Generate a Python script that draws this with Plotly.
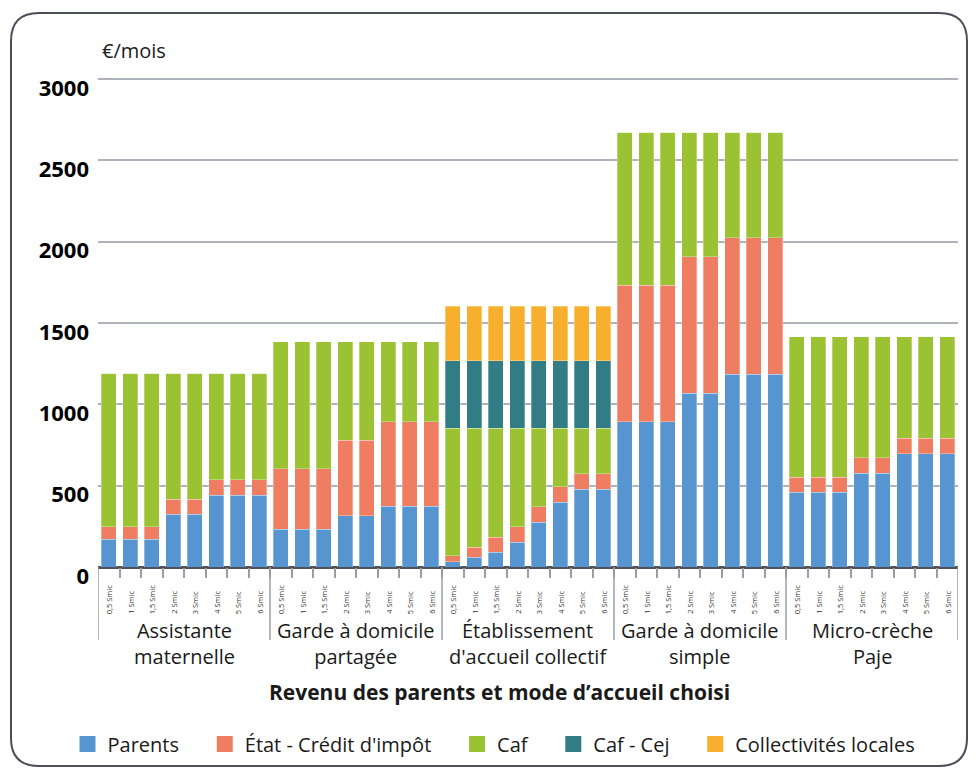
import plotly.graph_objects as go

# Modes d'accueil et niveaux de revenu
modes = ["Assistante<br>maternelle", "Garde à domicile<br>partagée",
         "Établissement<br>d'accueil collectif", "Garde à domicile<br>simple",
         "Micro-crèche<br>Paje"]
revenus = ["0,5 Smic", "1 Smic", "1,5 Smic", "2 Smic", "3 Smic", "4 Smic", "5 Smic", "6 Smic"]

# Montants par financeur (€/mois), 8 revenus par mode
parents = [170, 170, 170, 324, 324, 441, 441, 441,
           231, 231, 231, 314, 314, 375, 375, 375,
           33, 59, 92, 151, 274, 398, 478, 478,
           894, 894, 894, 1067, 1067, 1186, 1186, 1186,
           461, 461, 461, 577, 577, 696, 696, 696]
etat = [77, 77, 77, 92, 92, 96, 96, 96,
        373, 373, 373, 464, 464, 519, 519, 519,
        36, 62, 92, 96, 95, 94, 96, 96,
        839, 839, 839, 839, 839, 839, 839, 839,
        92, 92, 92, 95, 95, 94, 94, 94]
caf = [943, 943, 943, 774, 774, 653, 653, 653,
       782, 782, 782, 608, 608, 492, 492, 492,
       784, 732, 669, 606, 484, 361, 279, 279,
       939, 939, 939, 766, 766, 647, 647, 647,
       862, 862, 862, 743, 743, 625, 625, 625]
caf_cej = [0] * 16 + [415] * 8 + [0] * 16
collectivites = [0] * 16 + [336] * 8 + [0] * 16

series = [
    ("Parents", parents, "#5795D0"),
    ("État - Crédit d'impôt", etat, "#EF7D62"),
    ("Caf", caf, "#9BC232"),
    ("Caf - Cej", caf_cej, "#327C86"),
    ("Collectivités locales", collectivites, "#F8AF2E"),
]

n_rev = len(revenus)
x_pos = list(range(len(modes) * n_rev))
tick_text = revenus * len(modes)

# la page ajoute 8 px de marge autour de la figure
OFF = 8
W, H = 960, 759
L, R, T, B = 90, 10, 68, 200
pw, ph = W - L - R, H - T - B
y_top = 3000 * ph / (ph - 3)  # petite marge pour voir la ligne 3000


def px_x(p):
    return (p - OFF - L) / pw


def px_y(p):
    return (H - B - (p - OFF)) / ph


fig = go.Figure()

for i, (name, vals, color) in enumerate(series):
    fig.add_trace(go.Bar(
        x=x_pos, y=vals, name=name,
        marker=dict(color=color, line=dict(color="rgba(255,255,255,0.6)", width=0.5)),
        showlegend=False,
    ))
    # entrée de légende avec un grand carré
    label = name if i == len(series) - 1 else name + "\u00a0" * 4
    fig.add_trace(go.Scatter(
        x=[None], y=[None], mode="markers", name=label,
        marker=dict(symbol="square", size=21, color=color),
    ))

shapes = []
# séparateurs de groupes
for k in range(len(modes) + 1):
    shapes.append(dict(type="line", xref="x", yref="paper",
                       x0=k * n_rev - 0.5, x1=k * n_rev - 0.5,
                       y0=0, y1=px_y(640), line=dict(color="#9a9ea8", width=1.5)))

# cadre arrondi
x0, x1 = px_x(11), px_x(967)
y0, y1 = px_y(13), px_y(766)
rx, ry = 28 / pw, 28 / ph
path = (f"M {x0 + rx},{y0} L {x1 - rx},{y0} Q {x1},{y0} {x1},{y0 - ry} "
        f"L {x1},{y1 + ry} Q {x1},{y1} {x1 - rx},{y1} L {x0 + rx},{y1} "
        f"Q {x0},{y1} {x0},{y1 + ry} L {x0},{y0 - ry} Q {x0},{y0} {x0 + rx},{y0} Z")
shapes.append(dict(type="path", xref="paper", yref="paper", path=path,
                   line=dict(color="#4a4f5a", width=2)))

annotations = []
# libellés de revenu, verticaux, alignés par le bas
for xi, t in zip(x_pos, tick_text):
    annotations.append(dict(
        text=t, x=xi, xref="x", y=px_y(616), yref="paper", textangle=-90,
        xanchor="center", yanchor="bottom", showarrow=False,
        font=dict(size=7.5, color="#333"),
    ))
for k, m in enumerate(modes):
    annotations.append(dict(
        text=m, x=k * n_rev + (n_rev - 1) / 2, xref="x", y=px_y(615), yref="paper",
        xanchor="center", yanchor="top", showarrow=False,
        font=dict(size=20, color="#1a1a1a"),
    ))
annotations.append(dict(
    text="<b>Revenu des parents et mode d’accueil choisi</b>",
    x=px_x(499), xref="paper", y=px_y(692), yref="paper", xanchor="center", yanchor="middle",
    showarrow=False, font=dict(size=21, color="#1a1a1a"),
))
annotations.append(dict(
    text="€/mois", x=px_x(100), xref="paper", y=px_y(51), yref="paper",
    xanchor="left", yanchor="middle", showarrow=False,
    font=dict(size=20, color="#1a1a1a"),
))

fig.update_layout(
    barmode="stack",
    bargap=0.28,
    width=W, height=H,
    margin=dict(l=L, r=R, t=T, b=B, autoexpand=False),
    plot_bgcolor="white",
    paper_bgcolor="white",
    font=dict(family="Open Sans, sans-serif", color="#1a1a1a"),
    xaxis=dict(
        range=[-0.5, len(x_pos) - 0.5],
        tickvals=x_pos, showticklabels=False,
        ticks="", showgrid=False, zeroline=False,
        minor=dict(tickvals=[i + 0.5 for i in x_pos[:-1]], ticks="outside",
                   ticklen=10, tickcolor="#9a9ea8", tickwidth=1.5),
    ),
    yaxis=dict(
        range=[0, y_top],
        tickvals=[0, 500, 1000, 1500, 2000, 2500, 3000],
        tickfont=dict(size=22, color="black", weight="bold"),
        ticklabelshift=9,
        ticklabelstandoff=8,
        showgrid=True, gridcolor="#aeb2bd", gridwidth=2,
        zeroline=True, zerolinecolor="#4d525c", zerolinewidth=2.5,
    ),
    legend=dict(
        orientation="h", traceorder="normal",
        x=px_x(494), xanchor="center", y=px_y(744), yanchor="middle",
        font=dict(size=20, color="#1a1a1a"),
    ),
    shapes=shapes,
    annotations=annotations,
)

fig.write_html("out.html")
